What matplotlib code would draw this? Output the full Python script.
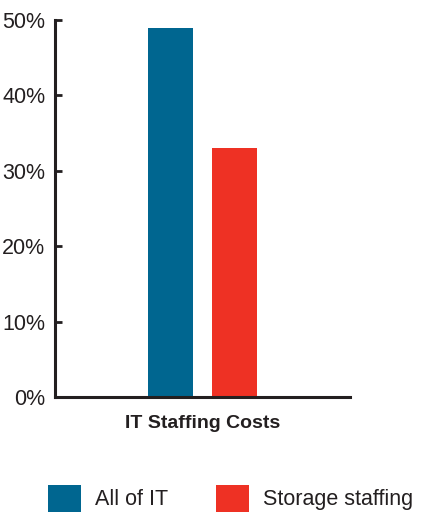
import matplotlib.pyplot as plt
from matplotlib.patches import Patch
from matplotlib.ticker import FuncFormatter, MultipleLocator

plt.rcParams['font.family'] = ['Liberation Sans', 'DejaVu Sans']

category = 'IT Staffing Costs'
series = ['All of IT', 'Storage staffing']
values = [49, 33]
colors = ['#006690', '#ee3124']
ink = '#231f20'

fig = plt.figure(figsize=(4.22, 5.17), dpi=100)
ax = fig.add_axes([55 / 422, 120 / 517, 295 / 422, 377 / 517])

offsets = [-0.5, 0.5]
for off, v, c in zip(offsets, values, colors):
    ax.bar(off, v, width=0.714, color=c)

ax.set_xlim(-2.34, 2.34)
ax.set_ylim(0, 50)
ax.yaxis.set_major_locator(MultipleLocator(10))
ax.yaxis.set_major_formatter(FuncFormatter(lambda v, p: f'{v:.0f}%'))

ax.set_xticks([0])
ax.set_xticklabels([category], fontsize=14, fontweight='bold', color=ink)
ax.tick_params(axis='x', length=0, pad=13)
ax.tick_params(axis='y', direction='in', length=5, width=2, color=ink,
               labelsize=15.5, labelcolor=ink, pad=7)

for side in ['top', 'right']:
    ax.spines[side].set_visible(False)
for side in ['left', 'bottom']:
    ax.spines[side].set_linewidth(2.2)
    ax.spines[side].set_color(ink)

handles = [Patch(facecolor=c, edgecolor='none') for c in colors]
fig.legend(handles, series, loc='lower left', bbox_to_anchor=(43 / 422, 0),
           ncol=2, frameon=False, fontsize=15.5, labelcolor=ink,
           handlelength=1.53, handleheight=1.53, handletextpad=0.65,
           columnspacing=2.2, borderaxespad=0.0, borderpad=0.25)

fig.savefig('out.png', dpi=100)
